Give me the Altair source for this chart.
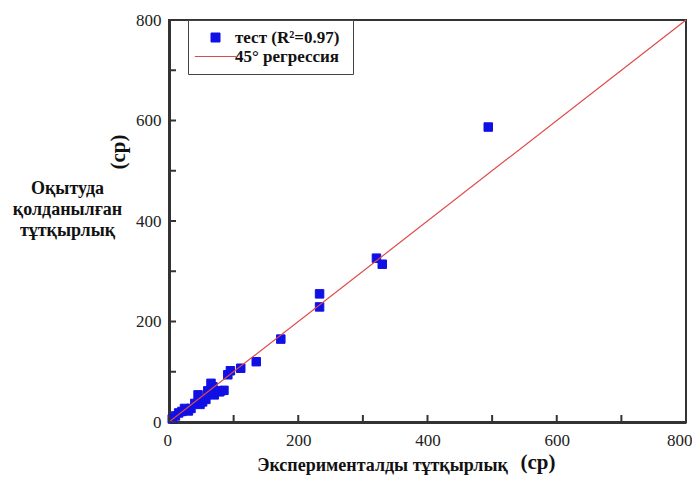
import altair as alt
import pandas as pd

# ---- data ----
x_exp = [5, 10, 15, 20, 24, 30, 34, 40, 45, 48, 52, 57, 60, 65, 68, 70, 78, 80, 85,
         91, 95, 111, 135, 173, 233, 233, 321, 330, 494]
y_train = [6, 12, 18, 21, 27, 22, 27, 37, 54, 35, 40, 45, 62, 77, 70, 54, 60, 62, 63,
           94, 102, 107, 120, 165, 229, 255, 326, 314, 587]
line_x = [0, 800]
line_y = [0, 800]
minor_ticks = [0, 100, 200, 300, 400, 500, 600, 700, 800]
major_ticks = [0, 200, 400, 600, 800]
series_labels = ["тест  (R²=0.97)", "\u00a045° регрессия"]
y_title_lines = ["Оқытуда", "қолданылған", "тұтқырлық"]
x_title = "Эксперименталды тұтқырлық"
unit_label = ["(cp)"]

FONT = "Liberation Serif"
W, H = 517, 402
BLUE = "#1010e6"
RED = "#dd4a4a"
DARK = "#333333"

pts = pd.DataFrame({"x": x_exp, "y": y_train, "series": series_labels[0]})
line_df = pd.DataFrame({"x": line_x, "y": line_y})
ticks_df = pd.DataFrame({"v": minor_ticks})
cp_df = pd.DataFrame({"label": unit_label})

xs = alt.Scale(domain=[0, 800], nice=False, zero=False)
ys = alt.Scale(domain=[0, 800], nice=False, zero=False)

x_axis = alt.Axis(
    values=major_ticks, ticks=False, tickSize=0, grid=False,
    domain=True, domainColor=DARK, domainWidth=3,
    labelFont=FONT, labelFontSize=17, labelColor="#222", labelPadding=10,
    labelFlush=True, labelFlushOffset=6, labelOverlap=False,
    title=x_title, titleFont=FONT, titleFontSize=18, titleFontWeight="bold",
    titleColor="#111", titleX=213, titleY=48, titleAlign="center",
    titleBaseline="alphabetic",
)
y_axis = alt.Axis(
    values=major_ticks, ticks=False, tickSize=0, grid=False,
    domain=True, domainColor=DARK, domainWidth=3,
    labelFont=FONT, labelFontSize=17, labelColor="#222", labelPadding=8,
    labelFlush=False, labelOverlap=False,
    title=y_title_lines, titleFont=FONT, titleFontSize=18, titleFontWeight="bold",
    titleColor="#111", titleAngle=0, titleX=-102, titleY=168,
    titleAlign="center", titleBaseline="middle", titleLineHeight=21,
)

leg = alt.Legend(
    title=None, orient="none", legendX=19, legendY=0, padding=9, rowPadding=1,
    symbolOffset=10, labelOffset=11, symbolSize=81, symbolStrokeWidth=1,
    labelFont=FONT, labelFontSize=17, labelFontWeight="bold", labelColor="#111",
    strokeColor="#444", fillColor="white",
)

color_scale = alt.Scale(domain=series_labels, range=[BLUE, RED])
shape_scale = alt.Scale(domain=series_labels, range=["square", "M-4.6,0H4.6"])

points = alt.Chart(pts).mark_point(filled=True, size=72, strokeWidth=1, opacity=1).encode(
    x=alt.X("x:Q", scale=xs, axis=x_axis),
    y=alt.Y("y:Q", scale=ys, axis=y_axis),
    fill=alt.Fill("series:N", scale=color_scale, legend=leg),
    stroke=alt.Stroke("series:N", scale=color_scale, legend=leg),
    shape=alt.Shape("series:N", scale=shape_scale, legend=leg),
)

line = alt.Chart(line_df).mark_line(color=RED, strokeWidth=1.2).encode(
    x=alt.X("x:Q", scale=xs, axis=x_axis),
    y=alt.Y("y:Q", scale=ys, axis=y_axis),
)

xticks = alt.Chart(ticks_df).mark_rule(color=DARK, strokeWidth=2).encode(
    x=alt.X("v:Q", scale=xs, axis=x_axis),
    y=alt.value(H), y2=alt.value(H - 7),
)
yticks = alt.Chart(ticks_df).mark_rule(color=DARK, strokeWidth=2).encode(
    y=alt.Y("v:Q", scale=ys, axis=y_axis),
    x=alt.value(0), x2=alt.value(7),
)

cp_y = alt.Chart(cp_df).mark_text(
    font=FONT, fontSize=21, fontWeight="bold", angle=270,
    baseline="middle", align="center", color="#111",
).encode(text="label:N", x=alt.value(-50), y=alt.value(132))

cp_x = alt.Chart(cp_df).mark_text(
    font=FONT, fontSize=21, fontWeight="bold",
    baseline="alphabetic", align="center", color="#111",
).encode(text="label:N", x=alt.value(369), y=alt.value(449))

chart = alt.layer(points, line, xticks, yticks, cp_y, cp_x).properties(
    width=W, height=H,
    padding={"left": 161, "top": 12, "right": 6, "bottom": 54},
    autosize=alt.AutoSizeParams(type="none"),
    background="white",
).configure_view(stroke=DARK, strokeWidth=2).configure_axis(
    labelFont=FONT, titleFont=FONT
)

chart.save("out.html", embed_options={"renderer": "svg", "actions": False})
